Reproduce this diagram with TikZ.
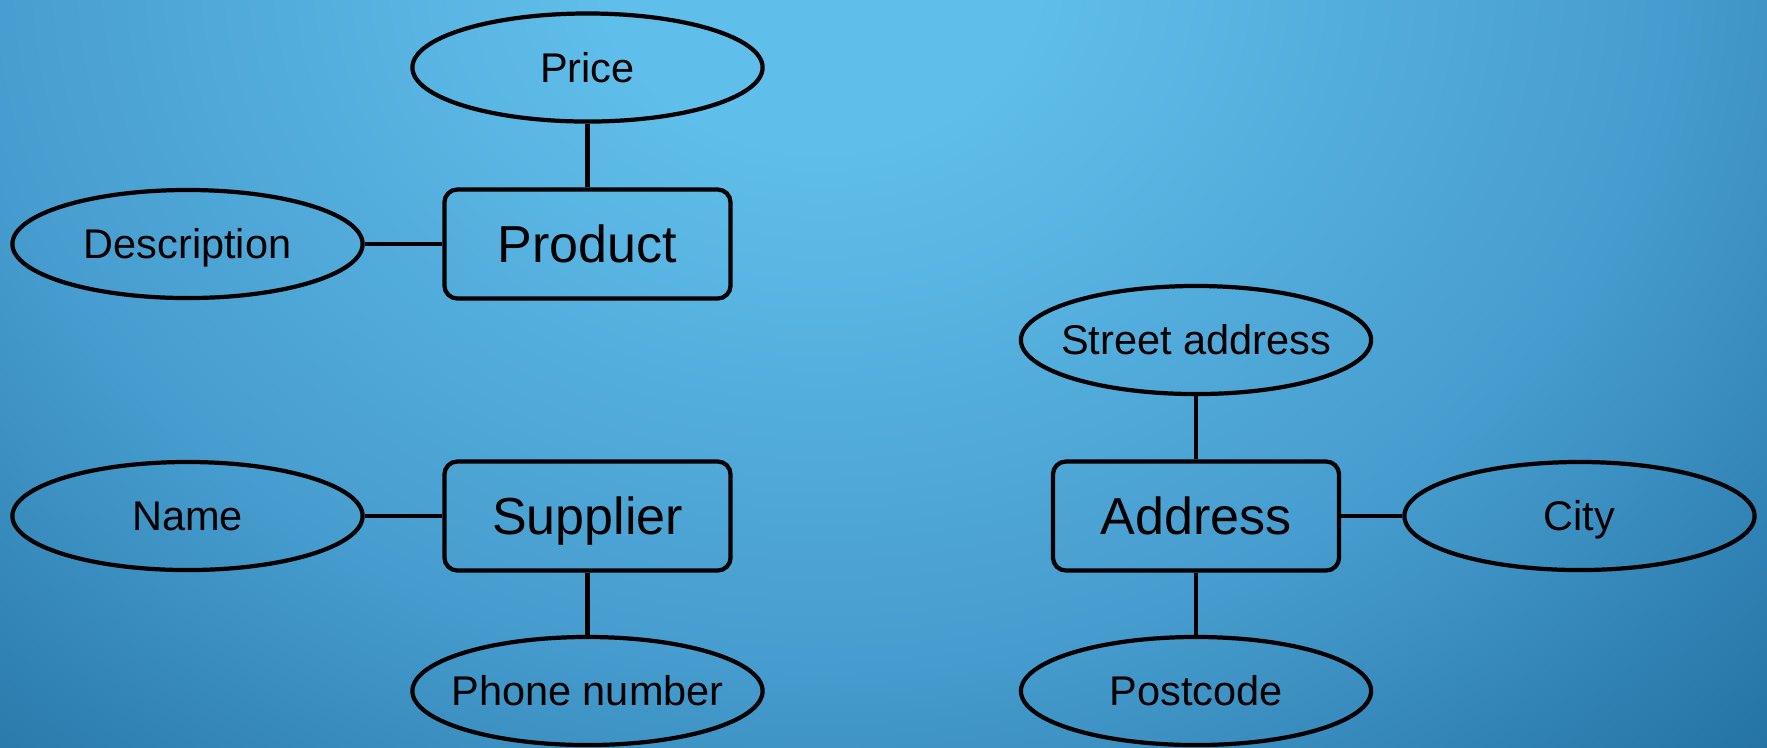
\documentclass[tikz,border=0pt]{standalone}
\usepackage{fontspec}
\setmainfont{Liberation Sans}
\usetikzlibrary{shapes.geometric}

% background colours
\definecolor{bgGlow}{RGB}{96,190,234}
\definecolor{bgMid}{RGB}{70,156,206}
\definecolor{bgEdge}{RGB}{28,104,154}
% glow: 100bp radius, stretched into an ellipse where it is used
\pgfdeclareradialshading{bgglow}{\pgfpoint{0bp}{0bp}}{%
  color(0bp)=(bgGlow); color(14bp)=(bgGlow); color(55bp)=(bgMid); color(95bp)=(bgEdge); color(100bp)=(bgEdge)}

% zero-width box, so that a label never widens its ellipse
\newcommand\centred[1]{\makebox[0pt][c]{#1}}

\tikzset{
  attr/.style={ellipse, draw, line width=1.2pt, minimum width=3.50cm, minimum height=1.08cm,
    inner sep=0pt, text height=8.4pt, text depth=0pt,
    font=\fontsize{11.8}{14}\selectfont},
  entity/.style={rectangle, draw, line width=1.2pt, rounded corners=0.13cm,
    minimum width=2.86cm, minimum height=1.09cm, inner sep=0pt,
    text height=10.6pt, text depth=0pt, font=\fontsize{14.8}{17}\selectfont},
  link/.style={draw, line width=1.2pt}
}

\begin{document}
\begin{tikzpicture}[x=0.01cm, y=-0.01cm]
  \useasboundingbox (0,0) rectangle (1767,747);

  % shaded backdrop
  \begin{scope}
    \clip (0,0) rectangle (1767,747);
    \fill[bgEdge] (0,0) rectangle (1767,747);
    \node[inner sep=0pt, outer sep=0pt, transform shape, xscale=4.4, yscale=3.6]
      (glow) at (820,-30) {\pgfuseshading{bgglow}};
  \end{scope}

  % entities
  \node[entity] (product)  at (587.5,244) {Product};
  \node[entity] (supplier) at (587.5,516) {Supplier};
  \node[entity] (address)  at (1196,516) {Address};

  % attributes
  \node[attr] (price)  at (587.5,67.5) {\centred{Price}};
  \node[attr] (descr)  at (187.5,244) {\centred{Description}};
  \node[attr] (name)   at (187.5,516) {\centred{Name}};
  \node[attr] (phone)  at (587.5,691) {\centred{Phone number}};
  \node[attr] (street) at (1196,340) {\centred{Street address}};
  \node[attr] (city)   at (1579.5,516) {\centred{City}};
  \node[attr] (post)   at (1196,691) {\centred{Postcode}};

  % connectors
  \path[link] (price) -- (product);
  \path[link] (descr) -- (product);
  \path[link] (name) -- (supplier);
  \path[link] (supplier) -- (phone);
  \path[link] (street) -- (address);
  \path[link] (address) -- (city);
  \path[link] (address) -- (post);
\end{tikzpicture}
\end{document}
